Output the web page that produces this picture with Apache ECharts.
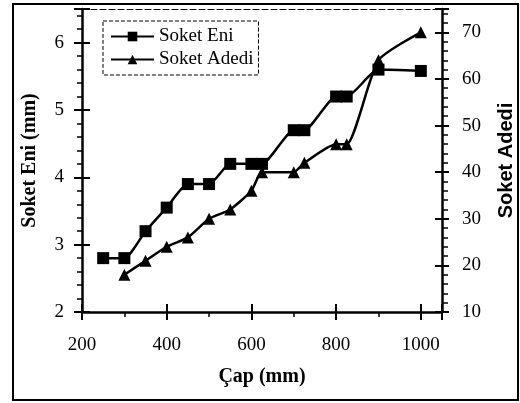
<!DOCTYPE html>
<html>
<head>
<meta charset="utf-8">
<script src="https://cdn.jsdelivr.net/npm/echarts@6/dist/echarts.min.js"></script>
<style>html,body{margin:0;padding:0;background:#fff}#c{width:520px;height:403px}</style>
</head>
<body>
<div id="c"></div>
<script>
const capEni = [250, 300, 350, 400, 450, 500, 550, 600, 625, 700, 725, 800, 825, 900, 1000];
const soketEni = [2.8, 2.8, 3.2, 3.55, 3.9, 3.9, 4.2, 4.2, 4.2, 4.7, 4.7, 5.2, 5.2, 5.6, 5.58];
const capAdedi = [300, 350, 400, 450, 500, 550, 600, 625, 700, 725, 800, 825, 900, 1000];
const soketAdedi = [18, 21, 24, 26, 30, 32, 36, 40, 40, 42, 46, 46, 64, 70];
const xTicks = [200, 400, 600, 800, 1000];
const leftTicks = [2, 3, 4, 5, 6];
const rightTicks = [10, 20, 30, 40, 50, 60, 70];

const serif = 'Liberation Serif';
const sans = 'Liberation Sans';
const black = '#000';
const chart = echarts.init(document.getElementById('c'), null, {renderer: 'canvas'});

const lbl = (m) => ({show: true, color: black, fontFamily: serif, fontSize: 19, margin: m});
const none = {show: false};

chart.setOption({
  animation: false,
  backgroundColor: '#fff',
  grid: {left: 82, right: 78, top: 9, bottom: 91, containLabel: false, outerBoundsMode: 'none'},
  legend: {
    orient: 'vertical', left: 103, top: 21,
    itemWidth: 43, itemHeight: 12, itemGap: 4,
    padding: [6, 5, 6, 7],
    borderColor: black, borderWidth: 1, borderType: 'dashed',
    textStyle: {color: black, fontFamily: serif, fontSize: 19},
    data: ['Soket Eni', 'Soket Adedi']
  },
  xAxis: [
    {type: 'value', position: 'bottom', min: 200, max: 1050, interval: 200,
     name: 'Çap (mm)', nameLocation: 'middle', nameGap: 55,
     nameTextStyle: {color: black, fontFamily: serif, fontSize: 20, fontWeight: 'bold'},
     axisLine: {show: true, onZero: false, lineStyle: {color: black, width: 2.5}},
     axisTick: {show: true, inside: false, length: 8, lineStyle: {color: black, width: 2}},
     minorTick: {show: true, splitNumber: 2, length: 5, lineStyle: {color: black, width: 1.5}},
     axisLabel: Object.assign(lbl(24), {formatter: v => xTicks.includes(v) ? String(v) : ''}),
     splitLine: none},
    {type: 'value', position: 'bottom', min: 200, max: 1050, interval: 200,
     axisLine: {show: false, onZero: false},
     axisTick: {show: true, inside: true, length: 8, lineStyle: {color: black, width: 2}},
     axisLabel: none, splitLine: none},
    {type: 'value', position: 'top', min: 200, max: 1050, interval: 200,
     axisLine: {show: true, onZero: false, lineStyle: {color: black, width: 1, type: [6, 3]}},
     axisTick: none, axisLabel: none, splitLine: none}
  ],
  yAxis: [
    {type: 'value', position: 'left', min: 2, max: 6.5, interval: 1,
     name: 'Soket Eni (mm)', nameLocation: 'middle', nameGap: 42, nameRotate: 90,
     nameTextStyle: {color: black, fontFamily: serif, fontSize: 20, fontWeight: 'bold'},
     axisLine: {show: true, onZero: false, lineStyle: {color: black, width: 2.5}},
     axisTick: {show: true, inside: false, length: 8, lineStyle: {color: black, width: 2}},
     minorTick: {show: true, splitNumber: 5, length: 5, lineStyle: {color: black, width: 1.5}},
     axisLabel: Object.assign(lbl(18), {showMaxLabel: false, formatter: v => leftTicks.includes(v) ? String(v) : ''}),
     splitLine: none},
    {type: 'value', position: 'right', min: 10, max: 75, interval: 10,
     name: 'Soket Adedi', nameLocation: 'middle', nameGap: 54, nameRotate: 90,
     nameTextStyle: {color: black, fontFamily: sans, fontSize: 20, fontWeight: 'bold'},
     axisLine: {show: true, onZero: false, lineStyle: {color: black, width: 2.5}},
     axisTick: {show: true, inside: false, length: 7, lineStyle: {color: black, width: 2}},
     minorTick: {show: true, splitNumber: 5, length: 6, lineStyle: {color: black, width: 1.5}},
     axisLabel: Object.assign(lbl(20), {showMaxLabel: false, formatter: v => rightTicks.includes(v) ? String(v) : ''}),
     splitLine: none},
    {type: 'value', position: 'left', min: 2, max: 6.5, interval: 1,
     axisLine: {show: false, onZero: false},
     axisTick: {show: true, inside: true, length: 8, lineStyle: {color: black, width: 2}},
     axisLabel: none, splitLine: none},
    {type: 'value', position: 'right', min: 10, max: 75, interval: 10,
     axisLine: {show: false, onZero: false},
     axisTick: {show: true, inside: true, length: 7, lineStyle: {color: black, width: 2}},
     axisLabel: none, splitLine: none}
  ],
  graphic: [
    {type: 'rect', shape: {x: 13, y: 4, width: 505, height: 396}, silent: true,
     style: {fill: 'none', stroke: black, lineWidth: 2}, z: -1}
  ],
  series: [
    {name: 'Soket Eni', type: 'line', xAxisIndex: 0, yAxisIndex: 0,
     data: capEni.map((x, i) => [x, soketEni[i]]),
     symbol: 'rect', symbolSize: 12, smooth: 0.2,
     lineStyle: {color: black, width: 2.5}, itemStyle: {color: black}},
    {name: 'Soket Adedi', type: 'line', xAxisIndex: 0, yAxisIndex: 1,
     data: capAdedi.map((x, i) => [x, soketAdedi[i]]),
     symbol: 'triangle', symbolSize: 12, smooth: 0.2,
     lineStyle: {color: black, width: 2.5}, itemStyle: {color: black}}
  ]
});
</script>
</body>
</html>
